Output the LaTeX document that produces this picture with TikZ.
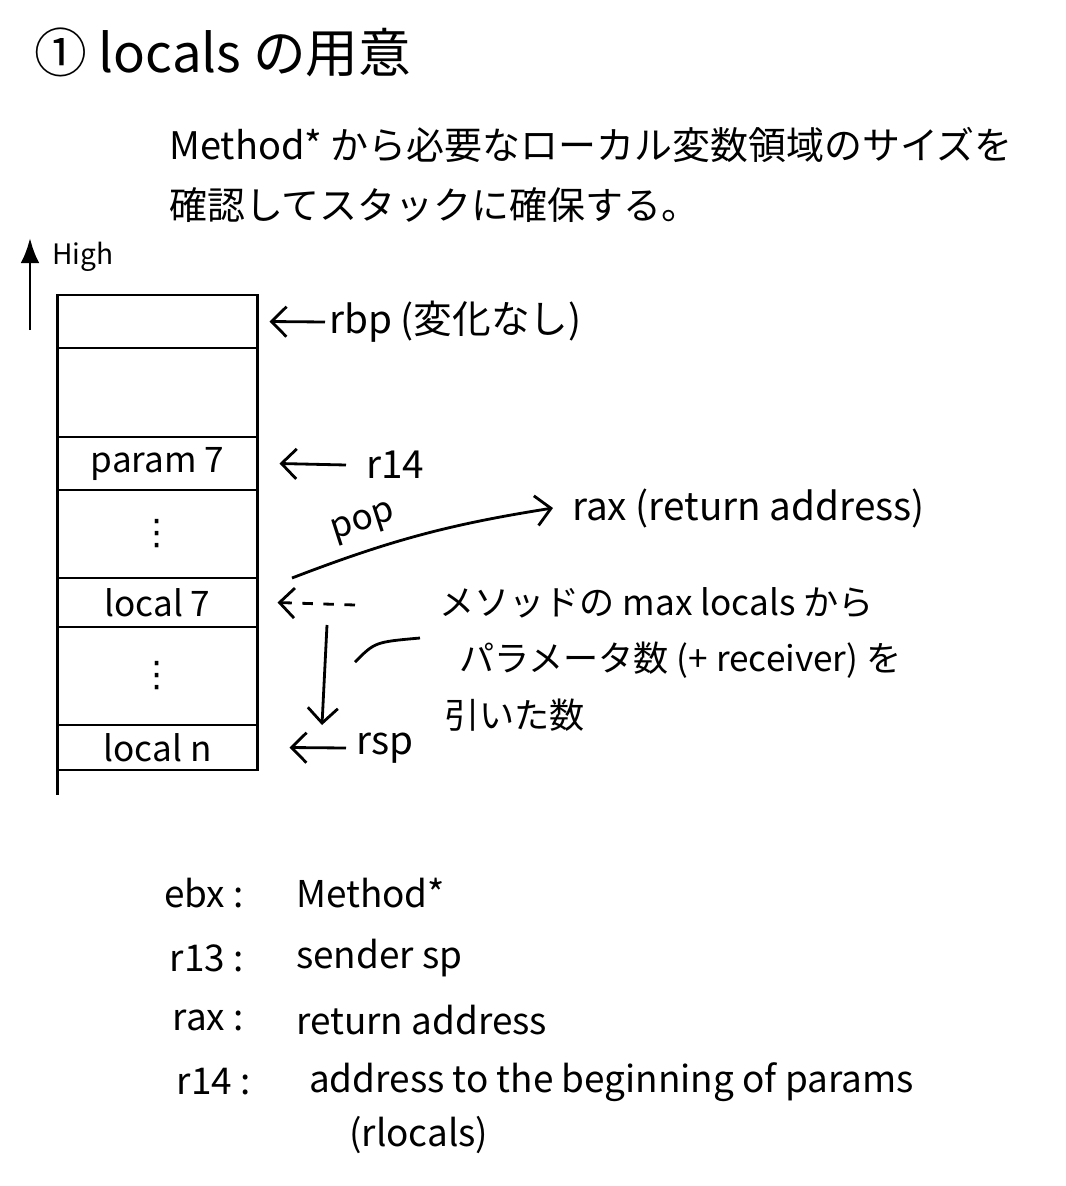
\documentclass[tikz,border=0pt]{standalone}
\usepackage{fontspec}
\setmainfont{Noto Sans CJK JP}
\newfontfamily\symfont{DejaVu Sans}
\usetikzlibrary{positioning,arrows.meta}

\tikzset{
  cell/.style={draw, thick, minimum width=2cm, inner sep=0pt, outer sep=0pt, font=\fontsize{10}{12}\selectfont},
  lbl/.style={anchor=west, inner sep=1pt, font=\fontsize{11}{13}\selectfont},
  desc/.style={anchor=west, inner sep=1pt, font=\fontsize{10.8}{13}\selectfont},
  note/.style={anchor=west, inner sep=1pt, font=\fontsize{10}{12}\selectfont},
  key/.style={anchor=east, inner sep=1pt, font=\fontsize{10.5}{13}\selectfont},
  val/.style={anchor=west, inner sep=1pt, font=\fontsize{10.5}{13}\selectfont},
  ptr/.style={thick, -{Straight Barb[length=1.5mm]}},
}

\begin{document}
\begin{tikzpicture}
  \useasboundingbox (0,0) rectangle (10.66,-11.86);

  % Title and description
  \node[anchor=west, inner sep=1pt, font=\fontsize{15}{18}\selectfont] (title) at (0.3,-0.52) {① locals の用意};
  \node[desc] (desc1) at (1.65,-1.45) {Method* から必要なローカル変数領域のサイズを};
  \node[desc] (desc2) at (1.65,-2.05) {確認してスタックに確保する。};

  % Address direction
  \node[anchor=west, inner sep=1pt, font=\fontsize{8}{10}\selectfont] (high) at (0.48,-2.57) {High};
  \coordinate (hbase) at (0.3,-3.3);
  \draw[thick, -{Latex[length=2.5mm]}] (hbase) -- (hbase |- high.north);

  % Stack
  \node[cell, minimum height=0.53cm] (rtop) at (1.575,-3.215) {};
  \node[cell, minimum height=0.89cm, below=0pt of rtop] (rgap) {};
  \node[cell, minimum height=0.53cm, below=0pt of rgap] (rparam) {param 7};
  \node[cell, minimum height=0.88cm, below=0pt of rparam] (rdotsA) {\symfont ⋮};
  \node[cell, minimum height=0.49cm, below=0pt of rdotsA] (rlocal) {local 7};
  \node[cell, minimum height=0.98cm, below=0pt of rlocal] (rdotsB) {\symfont ⋮};
  \node[cell, minimum height=0.45cm, below=0pt of rdotsB] (rlocaln) {local n};
  \draw[thick] (rlocaln.south west) -- ++(0,-0.25);

  % Registers
  \node[lbl] (rbp) at (3.25,-3.22) {rbp (変化なし)};
  \draw[ptr] (rbp.west) -- ([xshift=1.2mm]rtop.east);

  \node[lbl] (r14) at (3.62,-4.65) {r14};
  \draw[ptr] ([xshift=-1.6mm]r14.west) -- ([xshift=2.2mm]rparam.east);

  \node[lbl] (rsp) at (3.52,-7.48) {rsp};
  \draw[ptr] ([xshift=-0.6mm]rsp.west) -- ([xshift=3.2mm]rlocaln.east);

  \node[lbl] (rax) at (5.68,-5.08) {rax (return address)};
  \coordinate (popstart) at (2.92,-5.78);
  \draw[ptr] (popstart) to[bend left=6] node[above, sloped, pos=0.3, font=\fontsize{10}{12}\selectfont] {pop} ([xshift=-1.5mm]rax.west);

  % Size of the locals area
  \coordinate (dstart) at (3.55,-6.05);
  \draw[ptr, dashed] (dstart) -- ([xshift=2mm]rlocal.east);
  \coordinate (shrinktop) at (3.27,-6.25);
  \coordinate (shrinkend) at (3.22,-7.25);
  \draw[ptr] (shrinktop) -- (shrinkend);

  \node[note] (note1) at (4.35,-6.03) {メソッドの max locals から};
  \node[note] (note2) at (4.55,-6.6) {パラメータ数 (+ receiver) を};
  \node[note] (note3) at (4.4,-7.15) {引いた数};
  \coordinate (tick) at (3.55,-6.62);
  \draw[thick] (tick) .. controls (3.75,-6.42) .. (4.2,-6.38);

  % Legend
  \node[key] (kebx) at (2.48,-8.93) {ebx :};
  \node[val] (vebx) at (2.92,-8.93) {Method*};
  \node[key] (kr13) at (2.48,-9.58) {r13 :};
  \node[val] (vr13) at (2.92,-9.58) {sender sp};
  \node[key] (krax) at (2.48,-10.2) {rax :};
  \node[val] (vrax) at (2.92,-10.2) {return address};
  \node[key] (kr14) at (2.55,-10.82) {r14 :};
  \node[val] (vr14) at (3.05,-10.82) {address to the beginning of params};
  \node[val] (vrloc) at (3.45,-11.35) {(rlocals)};
\end{tikzpicture}
\end{document}
